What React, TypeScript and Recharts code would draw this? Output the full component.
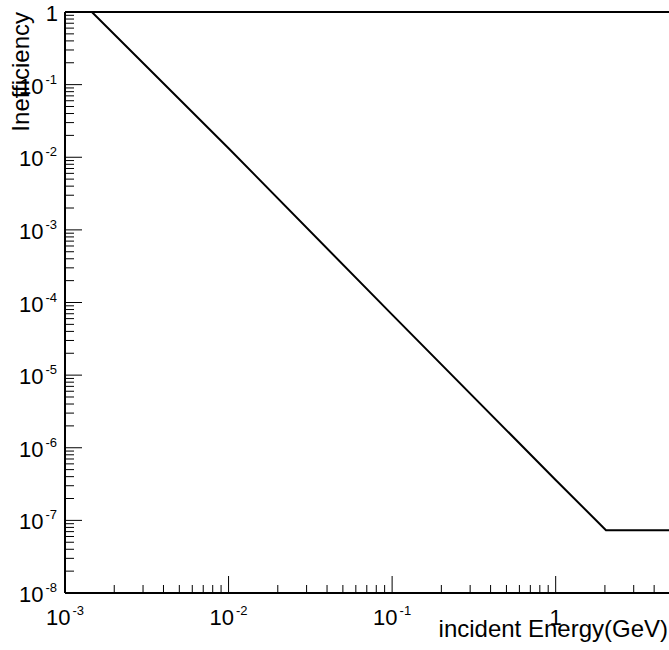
import React from 'react';
import { LineChart, Line, XAxis, YAxis, ReferenceLine } from 'recharts';

// incident energy (GeV) and inefficiency
const energy = [0.001, 0.00146, 0.01, 0.1, 1, 1.9, 2.03, 5];
const inefficiency = [1, 1, 0.0133, 6.8e-5, 3.6e-7, 8.5e-8, 7.3e-8, 7.3e-8];

const xDecades = [-3, -2, -1, 0];
const yDecades = [-8, -7, -6, -5, -4, -3, -2, -1, 0];
const minorSteps = [2, 3, 4, 5, 6, 7, 8, 9];
const xLastMinor = [2, 3, 4];

const data = energy.map((e, i) => ({ e, v: inefficiency[i] }));

const xTicks: number[] = [];
xDecades.forEach((d) => {
  xTicks.push(Math.pow(10, d));
  const steps = d === 0 ? xLastMinor : minorSteps;
  steps.forEach((m) => xTicks.push(m * Math.pow(10, d)));
});

const yTicks: number[] = [];
yDecades.forEach((d) => {
  yTicks.push(Math.pow(10, d));
  if (d < 0) minorSteps.forEach((m) => yTicks.push(m * Math.pow(10, d)));
});

const FONT = '"Liberation Sans", Arial, Helvetica, sans-serif';

const exponentOf = (v: number) => {
  const l = Math.log10(v);
  const r = Math.round(l);
  return Math.abs(l - r) < 1e-6 ? r : null;
};

const Label = ({ x, y, exp, anchor }: { x: number; y: number; exp: number; anchor: 'end' | 'middle' }) =>
  exp === 0 ? (
    <text x={x} y={y} textAnchor={anchor} fontSize={22} fontFamily={FONT} fill="#000">
      1
    </text>
  ) : (
    <text x={x} y={y} textAnchor={anchor} fontSize={22} fontFamily={FONT} fill="#000">
      10
      <tspan dx={2} dy={-10} fontSize={13}>
        {exp}
      </tspan>
    </text>
  );

const YTick = (props: any) => {
  const { x, y, payload } = props;
  const exp = exponentOf(payload.value);
  const len = exp !== null ? 17 : 9;
  return (
    <g>
      <line x1={x} y1={y} x2={x + len} y2={y} stroke="#000" strokeWidth={1} />
      {exp !== null && <Label x={exp === 0 ? 58 : 57} y={y + 9} exp={exp} anchor="end" />}
    </g>
  );
};

const XTick = (props: any) => {
  const { x, y, payload } = props;
  const exp = exponentOf(payload.value);
  const len = exp !== null ? 17 : 8;
  return (
    <g>
      <line x1={x} y1={y} x2={x} y2={y - len} stroke="#000" strokeWidth={1} />
      {exp !== null && <Label x={x} y={y + 32} exp={exp} anchor="middle" />}
    </g>
  );
};

export default function App() {
  return (
    <div style={{ position: 'absolute', left: 0, top: 0, width: 669, height: 650, overflow: 'hidden', background: '#fff' }}>
      <LineChart width={672} height={650} data={data} margin={{ top: 12, right: 2, left: 0, bottom: 0 }}>
        <XAxis
          dataKey="e"
          type="number"
          scale="log"
          domain={[0.001, 5]}
          allowDataOverflow
          ticks={xTicks}
          interval={0}
          tick={XTick}
          tickLine={false}
          tickSize={0}
          tickMargin={0}
          height={57}
          axisLine={{ stroke: '#000', strokeWidth: 2 }}
        />
        <YAxis
          type="number"
          scale="log"
          domain={[1e-8, 1]}
          allowDataOverflow
          ticks={yTicks}
          interval={0}
          tick={YTick}
          tickLine={false}
          tickSize={0}
          tickMargin={0}
          width={65}
          axisLine={{ stroke: '#000', strokeWidth: 2 }}
        />
        <ReferenceLine y={1} stroke="#000" strokeWidth={2} />
        <Line
          dataKey="v"
          type="linear"
          stroke="#000"
          strokeWidth={2}
          dot={false}
          isAnimationActive={false}
        />
        <text
          transform="translate(29, 12) rotate(-90)"
          textAnchor="end"
          fontSize={24}
          fontFamily={FONT}
          fill="#000"
        >
          Inefficiency
        </text>
        <text x={668} y={637} textAnchor="end" fontSize={24} fontFamily={FONT} fill="#000">
          incident Energy(GeV)
        </text>
      </LineChart>
    </div>
  );
}
